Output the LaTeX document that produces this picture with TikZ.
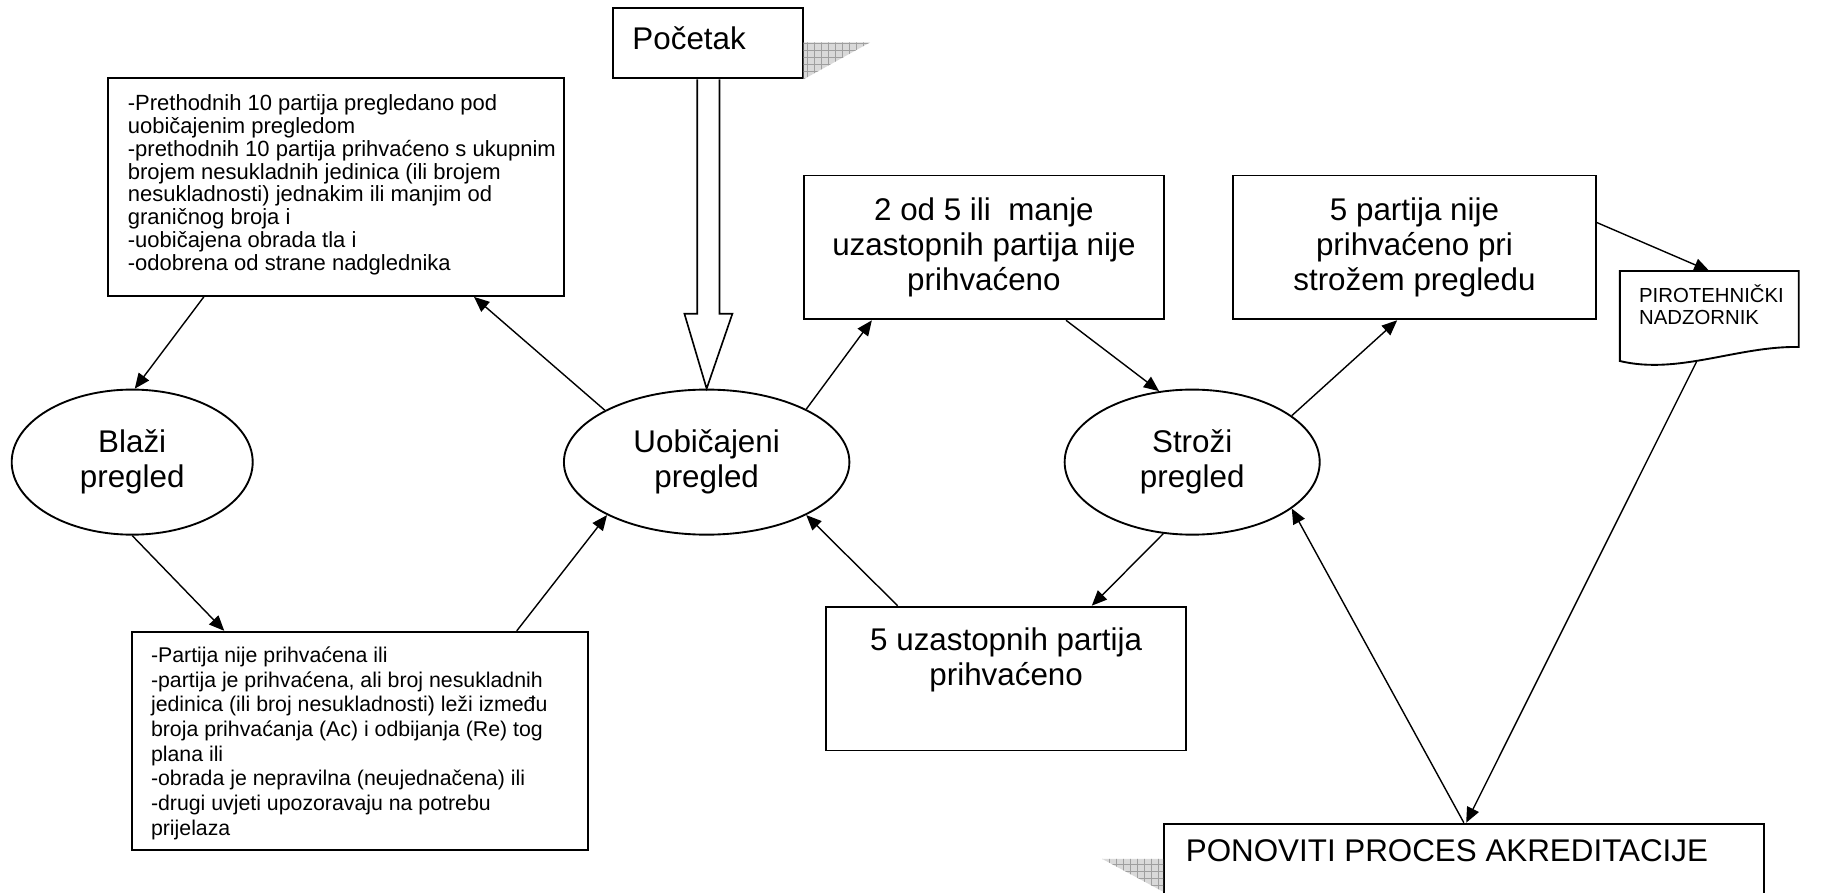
\documentclass[tikz,border=0pt]{standalone}
\usepackage{fontspec}
\setmainfont{Liberation Sans}
\usetikzlibrary{shapes.geometric,arrows.meta,calc,patterns}
\begin{document}
\begin{tikzpicture}[x=0.5pt,y=-0.5pt,
  box/.style={draw, line width=0.8pt, fill=white, rectangle, inner sep=0pt},
  ell/.style={draw, line width=0.8pt, fill=white, ellipse, inner sep=0pt},
  bigtxt/.style={font=\fontsize{13.4}{15}\selectfont, align=center, inner sep=0pt},
  tltxt/.style={font=\fontsize{9.4}{9.75}\selectfont, align=left, inner sep=0pt},
  bltxt/.style={font=\fontsize{9.1}{10.55}\selectfont, align=left, inner sep=0pt},
  pirotxt/.style={font=\fontsize{8.7}{9.3}\selectfont, align=left, inner sep=0pt},
  arr/.style={-{Triangle[length=6.5pt,width=5.5pt]}, line width=0.6pt},
  shadowfill/.style={fill=gray!30},
  shadowgrid/.style={pattern=grid, pattern color=gray!75}
]
\useasboundingbox (0,0) rectangle (1571,763);

% boxes
\node[box, minimum width=81pt, minimum height=30pt] (start) at (605,37) {};
\node[box, minimum width=195pt, minimum height=93pt] (tl) at (287,160) {};
\node[box, minimum width=195pt, minimum height=93.25pt] (bl) at (307.5,633.25) {};
\node[box, bigtxt, minimum width=154pt, minimum height=61.5pt] (two) at (841,211.5)
  {2 od 5 ili \ manje\\uzastopnih partija nije\\prihvaćeno};
\node[box, bigtxt, minimum width=155pt, minimum height=61.5pt] (five) at (1209,211.5)
  {5 partija nije\\prihvaćeno pri\\strožem pregledu};
\node[box, minimum width=154pt, minimum height=61.5pt] (uz) at (860,580) {};
\node[box, minimum width=256.5pt, minimum height=61.5pt] (pon) at (1251.5,765.5) {};
\node[minimum width=76pt, minimum height=40pt, inner sep=0pt] (piro) at (1461,272) {};

% shadows
\fill[shadowfill] ($(start.north east)+(0,30)$) -- ($(start.north east)+(57,30)$) -- (start.south east) -- cycle;
\fill[shadowgrid] ($(start.north east)+(0,30)$) -- ($(start.north east)+(57,30)$) -- (start.south east) -- cycle;
\fill[shadowfill] ($(pon.north west)+(-52,31)$) -- ($(pon.north west)+(0,31)$) -- ($(pon.north west)+(0,59)$) -- cycle;
\fill[shadowgrid] ($(pon.north west)+(-52,31)$) -- ($(pon.north west)+(0,31)$) -- ($(pon.north west)+(0,59)$) -- cycle;

% ellipses
\node[ell, bigtxt, minimum width=103pt, minimum height=62pt] (blazi) at (113,395) {Blaži\\pregled};
\node[ell, bigtxt, minimum width=122pt, minimum height=62pt] (uob) at (604,395) {Uobičajeni\\pregled};
\node[ell, bigtxt, minimum width=109pt, minimum height=62pt] (stroz) at (1019,395) {Stroži\\pregled};

% document shape
\draw[line width=0.8pt, fill=white] (piro.north west) -- (piro.north east) -- ($(piro.north east)+(0,65)$)
  .. controls ($(piro.north east)+(-52,64)$) and ($(piro.north west)+(50,89)$) .. ($(piro.north west)+(0,77)$) -- cycle;

% texts
\node[bigtxt, anchor=west] (startlbl) at ($(start.west)+(17,-4)$) {Početak};
\node[tltxt, anchor=west] (tllbl) at ($(tl.west)+(17.7,-2)$)
  {-Prethodnih 10 partija pregledano pod\\
   uobičajenim pregledom\\
   -prethodnih 10 partija prihvaćeno s ukupnim\\
   brojem nesukladnih jedinica (ili brojem\\
   nesukladnosti) jednakim ili manjim od\\
   graničnog broja i\\
   -uobičajena obrada tla i\\
   -odobrena od strane nadglednika};
\node[bltxt, anchor=west] (bllbl) at ($(bl.west)+(17,2)$)
  {-Partija nije prihvaćena ili\\
   -partija je prihvaćena, ali broj nesukladnih\\
   jedinica (ili broj nesukladnosti) leži između\\
   broja prihvaćanja (Ac) i odbijanja (Re) tog\\
   plana ili\\
   -obrada je nepravilna (neujednačena) ili\\
   -drugi uvjeti upozoravaju na potrebu\\
   prijelaza};
\node[bigtxt] (uzlbl) at ($(uz.north)+(0,46)$) {5 uzastopnih partija\\prihvaćeno};
\node[bigtxt, anchor=west] (ponlbl) at ($(pon.north west)+(19,24)$) {PONOVITI PROCES AKREDITACIJE};
\node[pirotxt, anchor=west] (pirolbl) at ($(piro.north west)+(16,29)$) {PIROTEHNIČKI\\NADZORNIK};

% big hollow arrow
\draw[line width=0.7pt, fill=white] ($(start.south)+(-9,0)$) -- ($(uob.north)+(-8,-64)$) -- ($(uob.north)+(-19,-64)$)
  -- (uob.north) -- ($(uob.north)+(22,-64)$) -- ($(uob.north)+(11,-64)$) -- ($(start.south)+(10,0)$);

% connectors
\draw[arr] ($(tl.south west)+(83,0)$) -- (blazi.88);
\draw[arr] (blazi.south) -- ($(bl.north west)+(80,0)$);
\draw[arr] ($(bl.north west)+(330,0)$) -- (uob.-152);
\draw[arr] (uob.153) -- ($(tl.south west)+(314,0)$);
\draw[arr] (uob.28) -- ($(two.south west)+(59,0)$);
\draw[arr] ($(two.south west)+(225,0)$) -- (stroz.115);
\draw[arr] (stroz.25) -- ($(five.south west)+(141,0)$);
\draw[arr] (stroz.-112) -- ($(uz.north west)+(228,0)$);
\draw[arr] ($(uz.north west)+(62,0)$) -- (uob.-28);
\draw[arr] ($(five.north east)+(0,41)$) -- (piro.north);
\draw[arr] ($(piro.south)+(-11,-3)$) -- ($(pon.north west)+(259,0)$);
\draw[arr] ($(pon.north west)+(257,0)$) -- (stroz.-25);
\end{tikzpicture}
\end{document}
